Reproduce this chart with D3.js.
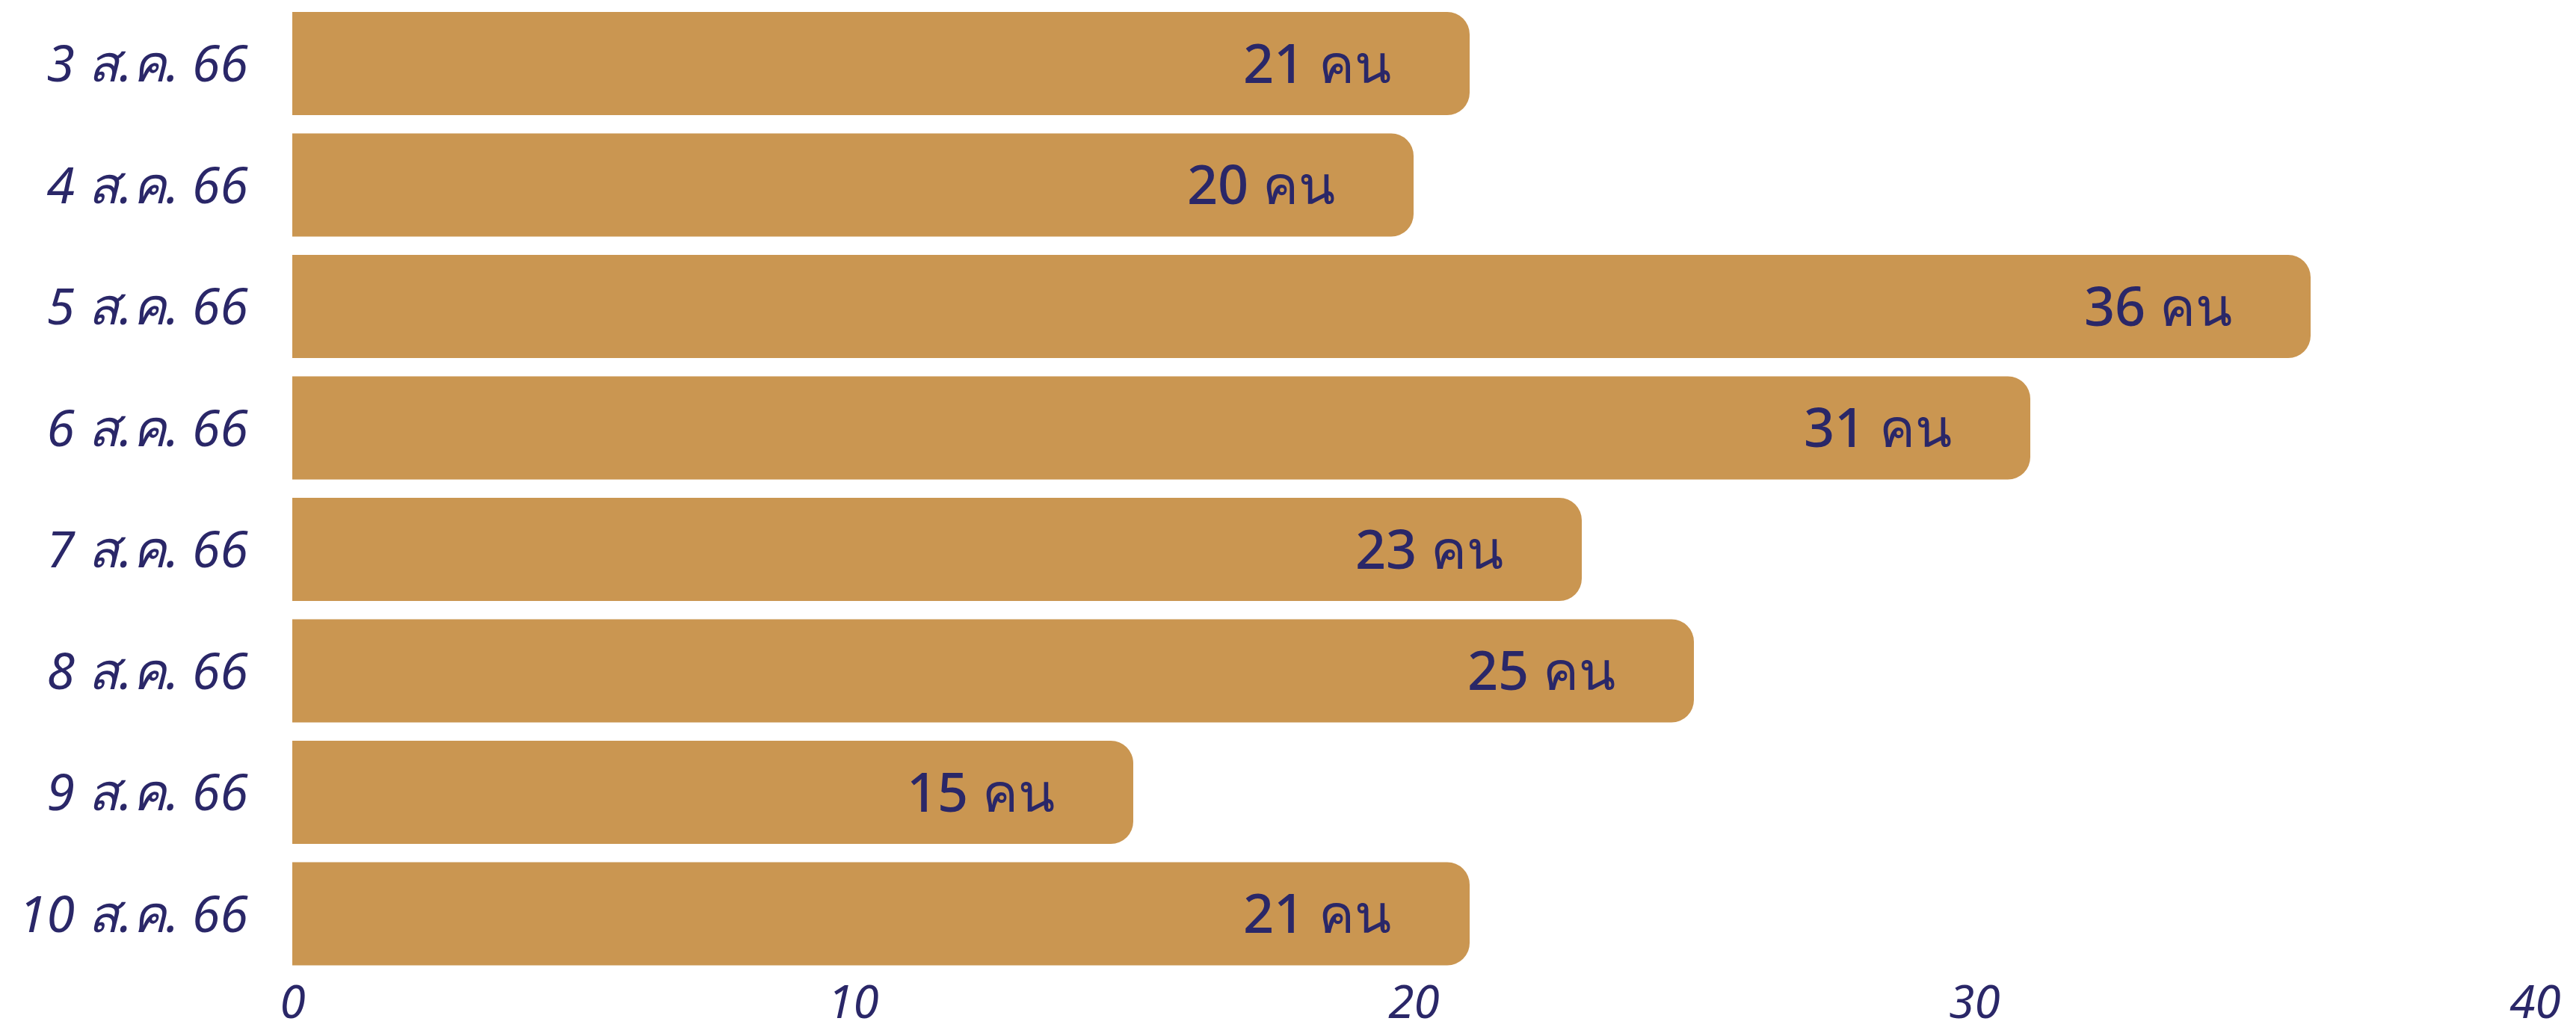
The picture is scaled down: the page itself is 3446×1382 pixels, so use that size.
<!DOCTYPE html>
<html>
<head>
<meta charset="utf-8">
<script src="https://cdn.jsdelivr.net/npm/d3@7"></script>
<style>
  html, body { margin: 0; padding: 0; background: #ffffff; }
  svg { display: block; }
</style>
</head>
<body>
<svg id="chart" width="3446" height="1382"></svg>
<script>
// ---- data ----
const categories = ["3 ส.ค. 66", "4 ส.ค. 66", "5 ส.ค. 66", "6 ส.ค. 66", "7 ส.ค. 66", "8 ส.ค. 66", "9 ส.ค. 66", "10 ส.ค. 66"];
const values = [21, 20, 36, 31, 23, 25, 15, 21];
const unitLabel = "คน";
const xTicks = [0, 10, 20, 30, 40];

// ---- layout ----
const W = 3446, H = 1382;
const left = 391, right = 3391;
const barColor = "#CA9651";
const textColor = "#2A2768";
const fontFamily = "'Noto Sans', 'Open Sans', Lato, sans-serif";

const svg = d3.select("#chart");

const x = d3.scaleLinear().domain([0, 40]).range([left, right]);
const y = d3.scaleBand().domain(categories).range([3.75, 1303.75])
  .paddingInner(0.15).paddingOuter(0.075);

const r = 30;
function barPath(v, c) {
  const x0 = x(0), x1 = x(v), y0 = y(c), h = y.bandwidth();
  const rr = Math.min(r, (x1 - x0), h / 2);
  const p = d3.path();
  p.moveTo(x0, y0);
  p.lineTo(x1 - rr, y0);
  p.arcTo(x1, y0, x1, y0 + rr, rr);
  p.lineTo(x1, y0 + h - rr);
  p.arcTo(x1, y0 + h, x1 - rr, y0 + h, rr);
  p.lineTo(x0, y0 + h);
  p.closePath();
  return p.toString();
}

const rows = categories.map((c, i) => ({ c, v: values[i] }));

svg.append("g").selectAll("path")
  .data(rows).join("path")
  .attr("d", d => barPath(d.v, d.c))
  .attr("fill", barColor);

// value labels
svg.append("g").selectAll("text")
  .data(rows).join("text")
  .attr("x", d => x(d.v) - 105)
  .attr("y", d => y(d.c) + y.bandwidth() / 2)
  .attr("dy", "0.36em")
  .attr("text-anchor", "end")
  .attr("fill", textColor)
  .style("font-family", fontFamily)
  .style("font-size", "72px")
  .style("font-weight", "500")
  .text(d => d.v + " " + unitLabel);

// y axis (category labels)
const yAxis = svg.append("g")
  .attr("transform", `translate(${left},0)`)
  .call(d3.axisLeft(y).tickSize(0).tickPadding(59));
yAxis.select(".domain").remove();
yAxis.selectAll("text")
  .attr("fill", textColor)
  .attr("dy", "0.36em")
  .style("font-family", fontFamily)
  .style("font-size", "68px")
  .style("font-style", "italic");

// x axis
const xAxis = svg.append("g")
  .attr("transform", `translate(0,1300)`)
  .call(d3.axisBottom(x).tickValues(xTicks).tickSize(0).tickPadding(0));
xAxis.select(".domain").remove();
xAxis.selectAll("text")
  .attr("fill", textColor)
  .attr("dy", "0")
  .attr("y", 62)
  .style("font-family", fontFamily)
  .style("font-size", "62px")
  .style("font-style", "italic");
</script>
</body>
</html>
